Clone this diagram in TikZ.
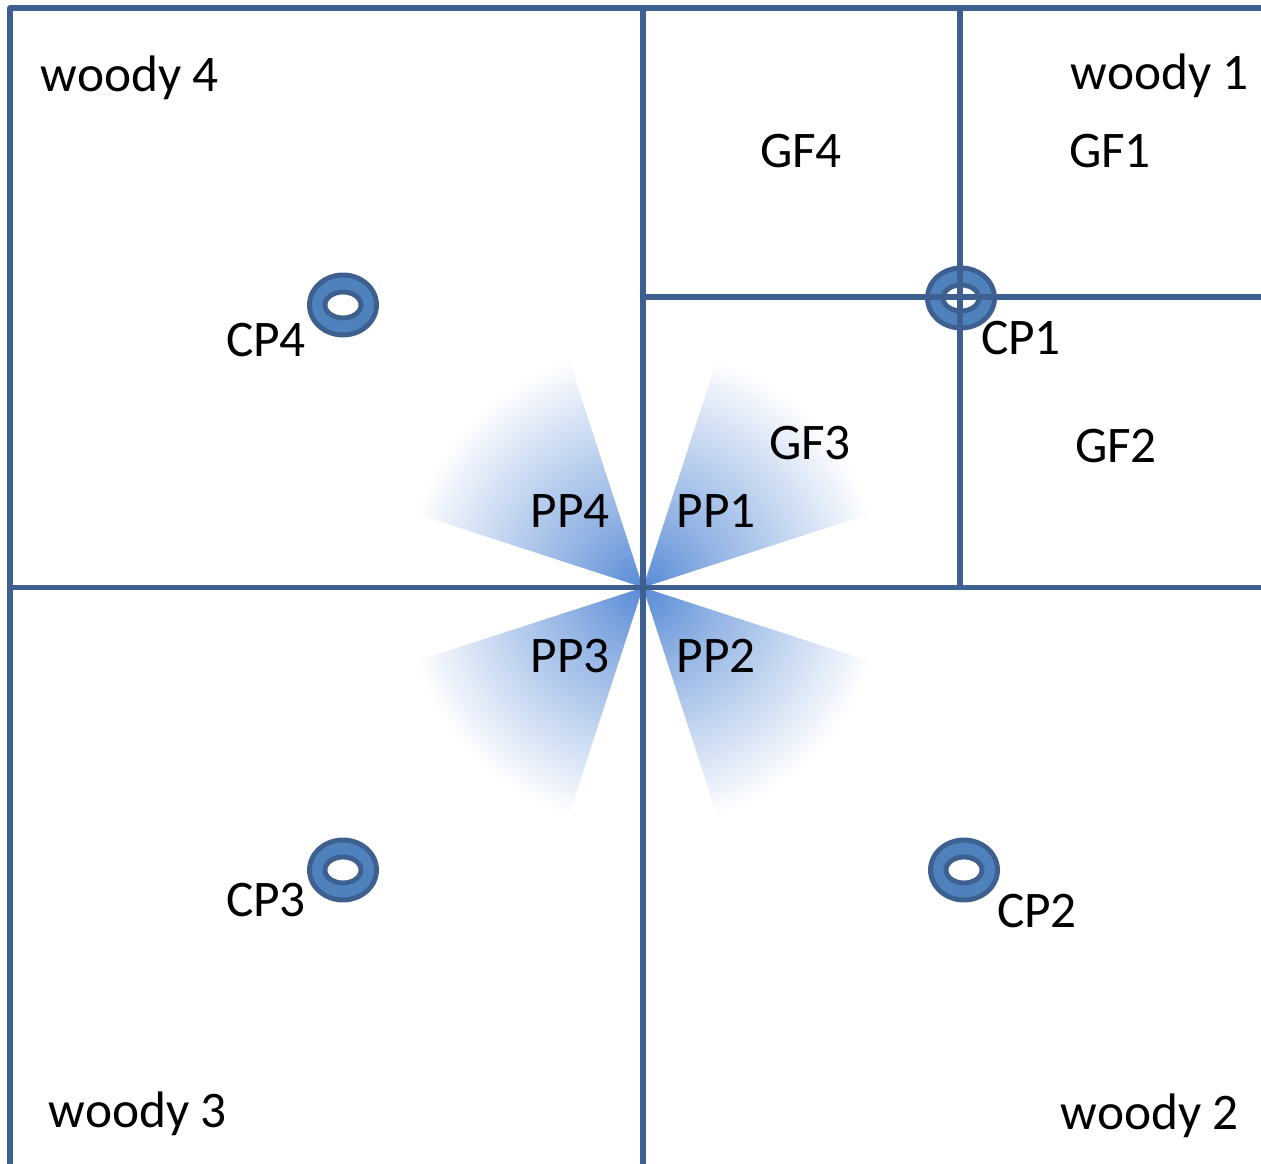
\documentclass[tikz,border=0pt]{standalone}
\usepackage{fontspec}
\setmainfont{Carlito}
\definecolor{lineblue}{RGB}{61,96,144}
\definecolor{ringblue}{RGB}{79,129,189}
\definecolor{ppblue}{RGB}{88,139,214}
\pgfdeclareradialshading{ppfade}{\pgfpoint{0bp}{0bp}}{color(0bp)=(ppblue); color(8bp)=(ppblue!65); color(25bp)=(white); color(50bp)=(white)}
\begin{document}
\begin{tikzpicture}[line cap=round, line join=round,font=\fontsize{14.6}{17}\selectfont]
					\useasboundingbox (0,0) rectangle (12.61,-11.64);
					\tikzset{plotline/.style={draw=lineblue, line width=1.5pt},
						ring/.pic={
							\path[draw=lineblue, fill=ringblue, line width=1.4pt, even odd rule] (0,0) ellipse ({0.335} and {0.30}) (0,0) ellipse ({0.18} and {0.13});
					}}
					\coordinate (c) at (6.43,-5.875);
					% fans round the centre
					\foreach \a in{0,90,180,270}{\begin{scope}\clip (c) -- ++(\a+18:2.45) arc (\a+18:\a+72:2.45) -- cycle;\shade[shading=ppfade] (c) circle (2.4);\end{scope}}
					\foreach \x/\y in{3.43/-3.05,9.61/-2.98,3.43/-8.70,9.64/-8.70}{\pic at(\x,\y) {ring};}
					% plots
					\draw[plotline] (0.10,-11.64) |- (12.61,-0.08);
					\draw[plotline] (6.43,-0.08) -- (6.43,-11.64);
					\draw[plotline] (0.10,-5.875) -- (12.61,-5.875);
					\draw[plotline] (9.60,-0.08) -- (9.60,-5.875);
					\draw[plotline] (6.43,-2.97) -- (12.61,-2.97);
					% labels
					\node[anchor=base] (w4) at (1.30,-0.92) {woody 4};
					\node[anchor=base] (w1) at (11.60,-0.90) {woody 1};
					\node[anchor=base] (w3) at (1.38,-11.28) {woody 3};
					\node[anchor=base] (w2) at (11.50,-11.30) {woody 2};
					\node[anchor=base] (gf4) at (8.01,-1.68) {GF4};
					\node[anchor=base] (gf1) at (11.10,-1.68) {GF1};
					\node[anchor=base] (gf3) at (8.10,-4.60) {GF3};
					\node[anchor=base] (gf2) at (11.16,-4.63) {GF2};
					\node[anchor=base] (cp4) at (2.66,-3.57) {CP4};
					\node[anchor=base] (cp1) at (10.21,-3.55) {CP1};
					\node[anchor=base] (cp3) at (2.66,-9.17) {CP3};
					\node[anchor=base] (cp2) at (10.37,-9.28) {CP2};
					\node[anchor=base] (pp4) at (5.70,-5.28) {PP4};
					\node[anchor=base] (pp1) at (7.16,-5.28) {PP1};
					\node[anchor=base] (pp3) at (5.70,-6.73) {PP3};
					\node[anchor=base] (pp2) at (7.16,-6.73) {PP2};
				\end{tikzpicture}
\end{document}
